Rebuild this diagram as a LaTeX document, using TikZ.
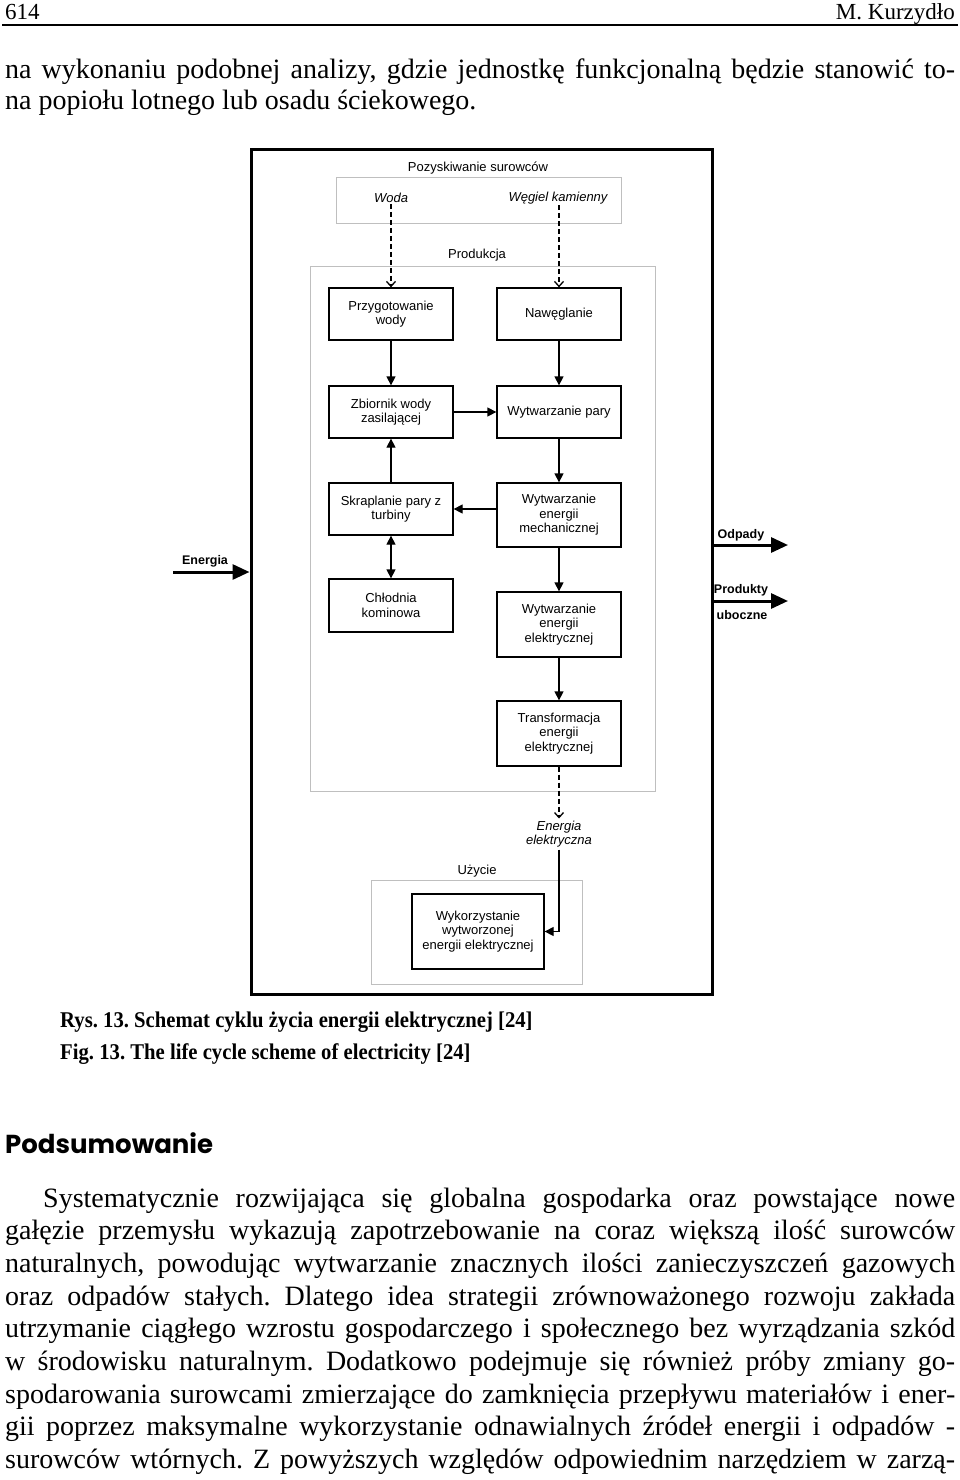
\documentclass[tikz,border=0pt]{standalone}
\usepackage{fontspec}
\usepackage{graphicx}
\setmainfont{Liberation Serif}
\newfontfamily\capfont{Liberation Serif}[FakeStretch=0.92]
\newfontfamily\dsans{Liberation Sans}
\newfontfamily\headfont{Poppins}
\usetikzlibrary{arrows.meta}
\frenchspacing
\newcommand\dfont{\dsans\fontsize{13}{14.5}\selectfont}
\newcommand\lblfont{\dsans\bfseries\fontsize{12.5}{14}\selectfont}
\newcommand\bodyfont{\fontsize{28}{33}\selectfont}
\newcommand\jl[2]{\sbox0{#2}\ifdim\wd0>#1\relax\resizebox{#1}{\ht0}{\usebox0}\else\makebox[#1][s]{#2}\fi}
\tikzset{
  box/.style={draw=black, line width=1.3pt, minimum width=124pt, inner sep=1pt, align=center, font=\dfont},
  grp/.style={draw=black!25, line width=1pt, inner sep=0pt},
  lbl/.style={font=\dfont, inner sep=1pt, align=center},
  arr/.style={line width=1.3pt, -{Triangle[length=9pt,width=9pt]}},
  dbl/.style={line width=1.3pt, {Triangle[length=9pt,width=9pt]}-{Triangle[length=9pt,width=9pt]}},
  darr/.style={line width=1.3pt, dash pattern=on 5pt off 3pt, -{Straight Barb[length=5pt,width=9pt,line width=1.3pt]}},
  bigarr/.style={line width=3pt, -{Triangle[length=17pt,width=15pt]}},
  txt/.style={anchor=base west, inner sep=0pt, font=\bodyfont},
  captxt/.style={anchor=base west, inner sep=0pt, font=\capfont\bfseries\fontsize{22.5}{25}\selectfont},
}
\begin{document}
\begin{tikzpicture}[x=1pt,y=-1pt]
\fill[white] (0,0) rectangle (960,1480);
\useasboundingbox (0,0) rectangle (960,1480);

% header
\node[anchor=base west, inner sep=0pt, font=\fontsize{23}{26}\selectfont] (pg) at (5,20) {614};
\node[anchor=base east, inner sep=0pt, font=\fontsize{23}{26}\selectfont] (au) at (955,20) {M. Kurzydło};
\draw[line width=1.5pt] (2,25) -- (958,25);

\node[txt] (t1) at (5,78) {\jl{950pt}{na wykonaniu podobnej analizy, gdzie jednostkę funkcjonalną będzie stanowić to-}};
\node[txt] (t2) at (5,109) {na popiołu lotnego lub osadu ściekowego.};

% diagram groups
\node[draw=black, line width=3pt, minimum width=461pt, minimum height=845pt, inner sep=0pt] (outer) at (481.5,571.5) {};
\node[grp, minimum width=285pt, minimum height=46pt] (poz) at (478.5,200) {};
\node[grp, minimum width=345pt, minimum height=525pt] (prod) at (482.5,528.5) {};
\node[grp, minimum width=211pt, minimum height=104pt] (uzy) at (476.5,932) {};

\node[lbl] (pozl) at (478,168) {Pozyskiwanie surowców};
\node[lbl] (prodl) at (477,255) {Produkcja};
\node[lbl] (uzyl) at (477,871) {Użycie};
\node[lbl, font=\dfont\itshape] (woda) at (391,198) {Woda};
\node[lbl, font=\dfont\itshape] (wegiel) at (558,198) {Węgiel kamienny};

\node[box, minimum height=52pt] (prz) at (391,314) {Przygotowanie\\wody};
\node[box, minimum height=52pt] (naw) at (559,314) {Nawęglanie};
\node[box, minimum height=52pt] (zbi) at (391,412) {Zbiornik wody\\zasilającej};
\node[box, minimum height=52pt] (wyp) at (559,412) {Wytwarzanie pary};
\node[box, minimum height=52pt] (skr) at (391,509) {Skraplanie pary z\\turbiny};
\node[box, minimum height=64pt] (wym) at (559,515) {Wytwarzanie\\energii\\mechanicznej};
\node[box, minimum height=53pt] (chl) at (391,605.5) {Chłodnia\\kominowa};
\node[box, minimum height=65pt] (wye) at (559,624.5) {Wytwarzanie\\energii\\elektrycznej};
\node[box, minimum height=65pt] (tra) at (559,733.5) {Transformacja\\energii\\elektrycznej};
\node[box, minimum width=132pt, minimum height=75pt] (wyk) at (478,931.5) {Wykorzystanie\\wytworzonej\\energii elektrycznej};
\node[lbl, font=\dfont\itshape, inner sep=2pt] (en) at (559,834) {Energia\\elektryczna};

% connectors
\draw[darr] (woda) -- (prz);
\draw[darr] (wegiel.south -| naw) -- (naw);
\draw[arr] (prz) -- (zbi);
\draw[arr] (naw) -- (wyp);
\draw[arr] (zbi) -- (wyp);
\draw[arr] (wyp) -- (wym);
\draw[arr] (wym.west |- skr.east) -- (skr.east);
\draw[arr] (skr) -- (zbi);
\draw[dbl] (skr) -- (chl);
\draw[arr] (wym) -- (wye);
\draw[arr] (wye) -- (tra);
\draw[darr] (tra) -- (en);
\draw[arr] (en.south) |- (wyk.east);

% side arrows
\coordinate (ein) at (173,572);
\coordinate (odp) at (788,545);
\coordinate (pro) at (788,601);
\draw[bigarr] (ein) -- (ein -| outer.west);
\draw[bigarr] (outer.east |- odp) -- (odp);
\draw[bigarr] (outer.east |- pro) -- (pro);
\node[font=\lblfont, inner sep=0pt] (enl) at (205,561) {Energia};
\node[font=\lblfont, inner sep=0pt] (odl) at (741,535) {Odpady};
\node[font=\lblfont, inner sep=0pt] (prl) at (741,590) {Produkty};
\node[font=\lblfont, inner sep=0pt] (ubl) at (742,615) {uboczne};

% captions
\node[captxt] (cap1) at (60,1027) {Rys. 13. Schemat cyklu życia energii elektrycznej [24]};
\node[captxt] (cap2) at (60,1059) {Fig. 13. The life cycle scheme of electricity [24]};

\node[anchor=base west, inner sep=0pt, font=\headfont\bfseries\fontsize{26}{30}\selectfont] (head) at (5,1153) {Podsumowanie};

% paragraph
\node[txt] (p1) at (43,1207) {\jl{912pt}{Systematycznie rozwijająca się globalna gospodarka oraz powstające nowe}};
\node[txt] (p2) at (5,1239.7) {\jl{950pt}{gałęzie przemysłu wykazują zapotrzebowanie na coraz większą ilość surowców}};
\node[txt] (p3) at (5,1272.4) {\jl{950pt}{naturalnych, powodując wytwarzanie znacznych ilości zanieczyszczeń gazowych}};
\node[txt] (p4) at (5,1305.1) {\jl{950pt}{oraz odpadów stałych. Dlatego idea strategii zrównoważonego rozwoju zakłada}};
\node[txt] (p5) at (5,1337.8) {\jl{950pt}{utrzymanie ciągłego wzrostu gospodarczego i społecznego bez wyrządzania szkód}};
\node[txt] (p6) at (5,1370.5) {\jl{950pt}{w środowisku naturalnym. Dodatkowo podejmuje się również próby zmiany go-}};
\node[txt] (p7) at (5,1403.2) {\jl{950pt}{spodarowania surowcami zmierzające do zamknięcia przepływu materiałów i ener-}};
\node[txt] (p8) at (5,1435.9) {\jl{950pt}{gii poprzez maksymalne wykorzystanie odnawialnych źródeł energii i odpadów -}};
\node[txt] (p9) at (5,1468.6) {\jl{950pt}{surowców wtórnych. Z powyższych względów odpowiednim narzędziem w zarzą-}};
\end{tikzpicture}
\end{document}
